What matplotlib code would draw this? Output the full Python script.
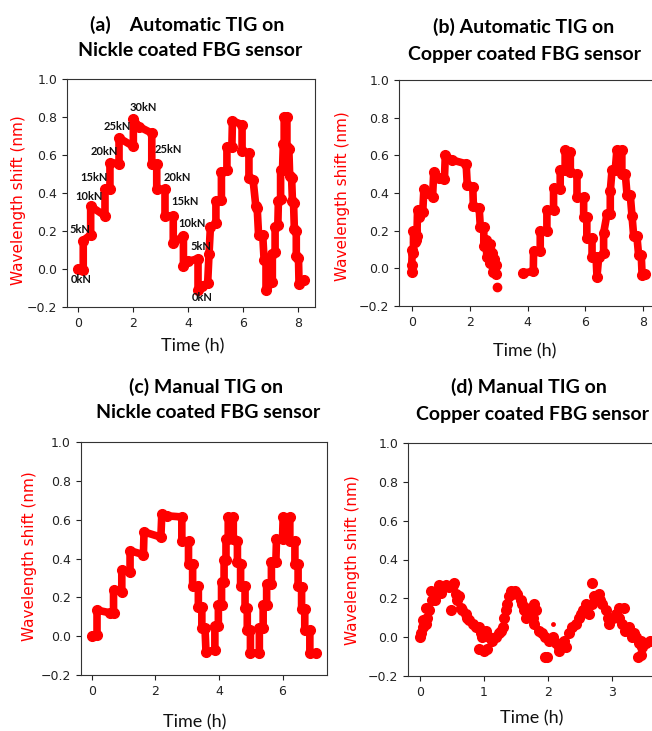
import numpy as np
import matplotlib
matplotlib.use("Agg")
import matplotlib.pyplot as plt

W, H = 652, 731

# (a) automatic TIG, nickel coated sensor: step vertices (time h, shift nm)
t_a = [0, 0.18, 0.18, 0.45, 0.45, 0.97, 0.97, 1.15, 1.15, 1.48, 1.48, 2.0, 2.0, 2.2, 2.67,
       2.67, 2.85, 2.85, 3.15, 3.15, 3.45, 3.45, 3.82, 3.82, 4.0, 4.35, 4.35, 4.5, 4.7,
       4.75, 4.8, 5.0, 5.0, 5.2, 5.2, 5.4, 5.4, 5.58, 5.6, 5.95, 5.95, 6.2, 6.2, 6.35,
       6.45, 6.5, 6.55, 6.7, 6.75, 6.82, 6.82, 7.05, 7.05, 7.15, 7.15, 7.25, 7.27, 7.35,
       7.35, 7.42, 7.45, 7.48, 7.48, 7.58, 7.58, 7.65, 7.68, 7.75, 7.78, 7.82, 7.85, 7.92,
       7.92, 8.0, 8.02, 8.2]
y_a = [0, -0.005, 0.15, 0.18, 0.33, 0.28, 0.42, 0.42, 0.56, 0.555, 0.69, 0.645, 0.79, 0.75, 0.715,
       0.555, 0.555, 0.42, 0.42, 0.28, 0.28, 0.135, 0.175, 0.015, 0.04, 0.055, -0.11, -0.09, -0.075,
       0.08, 0.22, 0.24, 0.36, 0.365, 0.51, 0.52, 0.64, 0.64, 0.78, 0.76, 0.62, 0.61, 0.48, 0.47,
       0.33, 0.32, 0.18, 0.18, 0.05, 0.05, -0.11, -0.07, 0.08, 0.09, 0.22, 0.23, 0.36, 0.37,
       0.52, 0.52, 0.66, 0.66, 0.8, 0.8, 0.64, 0.63, 0.49, 0.48, 0.36, 0.35, 0.21, 0.2,
       0.07, 0.06, -0.08, -0.06]

# load labels on panel (a)
load_txt = ["0kN", "5kN", "10kN", "15kN", "20kN", "25kN", "30kN",
            "25kN", "20kN", "15kN", "10kN", "5kN", "0kN"]
load_t = [0.1, 0.07, 0.4, 0.58, 0.95, 1.4, 2.37, 3.28, 3.6, 3.87, 4.14, 4.47, 4.5]
load_y = [-0.057, 0.21, 0.38, 0.48, 0.62, 0.75, 0.85, 0.63, 0.48, 0.355, 0.24, 0.117, -0.148]

# (b) automatic TIG, copper coated sensor: first run, stray reading, second run
t_b1 = [0.0, 0.0, 0.02, 0.06, 0.06, 0.1, 0.12, 0.15, 0.18, 0.2, 0.25, 0.3, 0.38, 0.42, 0.55,
        0.72, 0.76, 0.95, 1.13, 1.16, 1.4, 1.88, 1.92, 2.11, 2.13, 2.33, 2.37, 2.49, 2.49,
        2.55, 2.6, 2.65, 2.7, 2.72, 2.78, 2.8, 2.85, 2.9, 2.92]
y_b1 = [-0.02, 0.02, 0.1, 0.08, 0.2, 0.14, 0.2, 0.15, 0.17, 0.31, 0.27, 0.3, 0.3, 0.42, 0.4,
        0.38, 0.51, 0.48, 0.475, 0.6, 0.575, 0.555, 0.44, 0.43, 0.33, 0.32, 0.22, 0.22, 0.12,
        0.15, 0.06, 0.13, 0.03, 0.13, 0.08, -0.02, 0.05, -0.03, 0.02]
t_b_dot = [2.94]
y_b_dot = [-0.1]
t_b2 = [3.86, 4.2, 4.21, 4.44, 4.44, 4.67, 4.67, 4.9, 4.9, 5.13,
        5.13, 5.3, 5.3, 5.48, 5.48, 5.71, 5.71, 5.94, 5.94, 6.05,
        6.05, 6.23, 6.23, 6.37, 6.4, 6.46, 6.63, 6.63, 6.75, 6.86,
        6.86, 6.92, 7.03, 7.09, 7.26, 7.26, 7.38, 7.44, 7.55, 7.61,
        7.67, 7.78, 7.84, 7.93, 7.96, 8.07]
y_b2 = [-0.026, -0.015, 0.09, 0.09, 0.2, 0.2, 0.31, 0.31, 0.425, 0.42,
        0.52, 0.52, 0.63, 0.62, 0.51, 0.5, 0.38, 0.38, 0.275, 0.275,
        0.16, 0.16, 0.06, 0.06, -0.044, 0.06, 0.08, 0.187, 0.29, 0.29,
        0.41, 0.52, 0.52, 0.63, 0.63, 0.5, 0.5, 0.39, 0.39, 0.28,
        0.17, 0.17, 0.07, 0.07, -0.035, -0.03]

# (c) manual TIG, nickel coated sensor
t_c = [0, 0.16, 0.16, 0.58, 0.68, 0.68, 0.94, 0.94, 1.2, 1.2, 1.62, 1.64, 2.17, 2.2, 2.35,
       2.83, 2.83, 3.04, 3.04, 3.17, 3.17, 3.35, 3.35, 3.46, 3.46, 3.56, 3.59, 3.87, 3.87,
       3.98, 3.98, 4.08, 4.08, 4.16, 4.16, 4.22, 4.22, 4.29, 4.29, 4.45, 4.45, 4.58, 4.58,
       4.68, 4.68, 4.82, 4.82, 4.89, 4.89, 4.99, 4.99, 5.27, 5.27, 5.39, 5.39, 5.5, 5.5,
       5.65, 5.65, 5.79, 5.81, 6.0, 6.02, 6.23, 6.23, 6.39, 6.39, 6.49, 6.49, 6.6, 6.6,
       6.7, 6.7, 6.86, 6.86, 7.05]
y_c = [0, 0.005, 0.134, 0.12, 0.117, 0.237, 0.23, 0.34, 0.33, 0.44, 0.42, 0.537, 0.51, 0.63, 0.62,
       0.614, 0.49, 0.49, 0.374, 0.374, 0.26, 0.26, 0.15, 0.15, 0.04, 0.04, -0.08, -0.072, 0.05,
       0.05, 0.16, 0.16, 0.28, 0.28, 0.39, 0.39, 0.5, 0.5, 0.614, 0.614, 0.5, 0.49, 0.38,
       0.37, 0.26, 0.26, 0.147, 0.147, 0.03, 0.03, -0.086, -0.086, 0.04, 0.04, 0.16, 0.16, 0.27,
       0.27, 0.38, 0.38, 0.5, 0.5, 0.614, 0.614, 0.49, 0.49, 0.374, 0.374, 0.26, 0.255, 0.14,
       0.14, 0.03, 0.03, -0.086, -0.086]

# (d) manual TIG, copper coated sensor (scattered readings)
t_d = [0.0, 0.01, 0.04, 0.04, 0.09, 0.11, 0.09, 0.14, 0.19, 0.17, 0.22, 0.24, 0.27, 0.30, 0.32,
       0.38, 0.40, 0.45, 0.51, 0.53, 0.48, 0.56, 0.58, 0.61, 0.64, 0.66, 0.71, 0.74, 0.77, 0.82,
       0.87, 0.92, 0.95, 0.97, 1.03, 1.08, 1.13, 0.92, 1.00, 1.05, 1.18, 1.23, 1.26, 1.29, 1.31,
       1.34, 1.36, 1.39, 1.42, 1.44, 1.49, 1.52, 1.57, 1.60, 1.63, 1.65, 1.65, 1.70, 1.76, 1.78,
       1.81, 1.78, 1.86, 1.91, 1.96, 2.02, 2.07, 2.12, 2.17, 2.22, 2.25, 2.28, 2.17, 1.96, 1.99,
       2.33, 2.38, 2.43, 2.48, 2.51, 2.54, 2.59, 2.64, 2.69, 2.72, 2.74, 2.80, 2.82, 2.69, 2.85,
       2.90, 2.93, 2.95, 3.01, 3.06, 3.11, 3.16, 3.11, 3.19, 3.21, 3.27, 3.29, 3.32, 3.34, 3.37,
       3.42, 3.45, 3.47, 3.53, 3.60, 3.40, 3.45]
y_d = [0.0, 0.02, 0.05, 0.09, 0.07, 0.10, 0.15, 0.14, 0.19, 0.24, 0.22, 0.19, 0.24, 0.27, 0.23,
       0.26, 0.27, 0.26, 0.27, 0.28, 0.14, 0.22, 0.19, 0.21, 0.15, 0.14, 0.12, 0.10, 0.09, 0.07,
       0.05, 0.05, 0.02, 0.0, 0.03, 0.0, -0.02, -0.06, -0.07, -0.06, 0.0, 0.02, 0.03, 0.05, 0.10,
       0.14, 0.17, 0.21, 0.24, 0.22, 0.24, 0.22, 0.19, 0.17, 0.14, 0.10, 0.15, 0.14, 0.10, 0.07,
       0.14, 0.17, 0.03, 0.02, 0.0, -0.02, 0.0, -0.03, -0.05, -0.03, -0.02, -0.05, -0.07, -0.10, -0.10,
       0.02, 0.05, 0.07, 0.10, 0.12, 0.14, 0.17, 0.12, 0.17, 0.21, 0.21, 0.22, 0.19, 0.28, 0.17,
       0.14, 0.10, 0.07, 0.10, 0.12, 0.10, 0.07, 0.15, 0.15, 0.03, 0.05, 0.02, 0.0, 0.02, 0.0,
       -0.03, -0.02, -0.05, -0.03, -0.02, -0.10, -0.09]
t_d_small = [2.07]
y_d_small = [0.07]

RED = "#ff0000"
yticks = [-0.2, 0.0, 0.2, 0.4, 0.6, 0.8, 1.0]


def px_box(l, t, r, b):
    return [l / W, 1 - b / H, (r - l) / W, (b - t) / H]


def fx(x, y):
    return x / W, 1 - y / H


fig = plt.figure(figsize=(W / 100, H / 100), dpi=100)

ax_a = fig.add_axes(px_box(67, 79, 315, 307))
ax_b = fig.add_axes(px_box(399, 80, 656, 306))
ax_c = fig.add_axes(px_box(80.5, 442, 327, 675))
ax_d = fig.add_axes(px_box(408, 443, 674, 676))

line_kw = dict(color=RED, lw=5.5, marker="o", ms=7, solid_joinstyle="round",
               solid_capstyle="round")
ax_a.plot(t_a, y_a, **line_kw)
ax_b.plot(t_b1, y_b1, **line_kw)
ax_b.plot(t_b_dot, y_b_dot, "o", color=RED, ms=6)
ax_b.plot(t_b2, y_b2, **line_kw)
ax_c.plot(t_c, y_c, **line_kw)
ax_d.plot(t_d, y_d, "o", color=RED, ms=8, mec="none")
ax_d.plot(t_d_small, y_d_small, "o", color=RED, ms=3.5, mec="none")

for txt, tt, yy in zip(load_txt, load_t, load_y):
    ax_a.text(tt, yy, txt, ha="center", va="center", fontsize=8,
              fontweight="bold", family="Lato", color="#111111")

ax_a.set_xlim(-0.41, 8.6)
ax_b.set_xlim(-0.44, 8.44)
ax_c.set_xlim(-0.36, 7.4)
ax_d.set_xlim(-0.19, 3.97)
ax_a.set_xticks([0, 2, 4, 6, 8])
ax_b.set_xticks([0, 2, 4, 6, 8])
ax_c.set_xticks([0, 2, 4, 6])
ax_d.set_xticks([0, 1, 2, 3])

for ax in (ax_a, ax_b, ax_c, ax_d):
    ax.set_ylim(-0.2, 1.0)
    ax.set_yticks(yticks)
    ax.tick_params(labelsize=9, colors="#222222")
    for s in ax.spines.values():
        s.set_color("#333333")

# y labels
for x, y in [(19, 200), (343, 196), (30, 556), (352, 560)]:
    fig.text(*fx(x, y), "Wavelength shift (nm)", rotation=90, ha="center",
             va="center", color=RED, fontsize=11)

# x labels
for x, y in [(193, 351.5), (525, 356.5), (195, 727), (532, 723.5)]:
    fig.text(*fx(x, y), "Time (h)", ha="center", va="baseline", fontsize=13,
             family="Lato", color="#111111")

# titles
titles = [
    ("(a)    Automatic TIG on", 187, 30.5), ("Nickle coated FBG sensor", 190, 56.5),
    ("(b) Automatic TIG on", 524, 33), ("Copper coated FBG sensor", 525, 60),
    ("(c) Manual TIG on", 206, 393), ("Nickle coated FBG sensor", 208, 418.5),
    ("(d) Manual TIG on", 529, 393), ("Copper coated FBG sensor", 533, 420),
]
for txt, x, y in titles:
    fig.text(*fx(x, y), txt, ha="center", va="baseline", fontsize=14,
             fontweight="bold", family="Lato", color="#000000")

fig.savefig("out.png", dpi=100)
